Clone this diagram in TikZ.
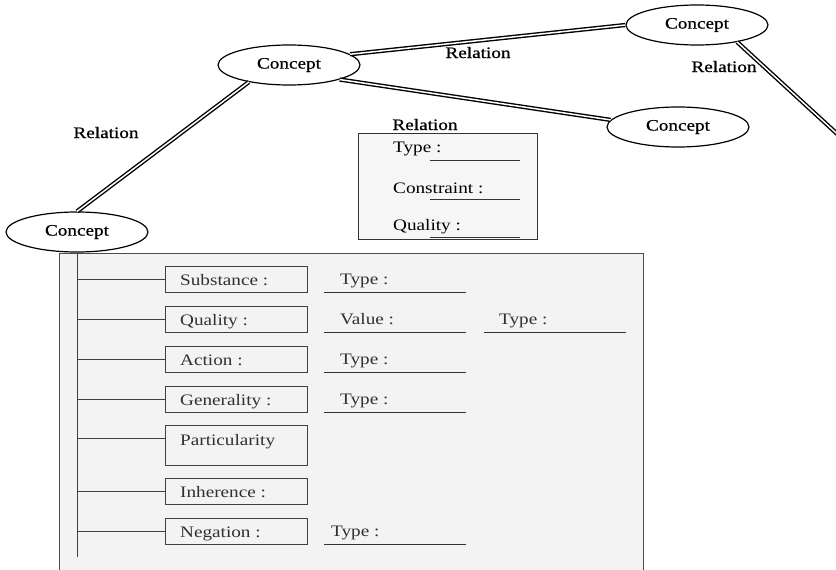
\documentclass[tikz,border=0pt]{standalone}
\usepackage{fontspec}
\setmainfont{Liberation Serif}[FakeStretch=1.2]
\newfontfamily\semib{Liberation Serif}[FakeStretch=1.2, FakeBold=0.7]
\usetikzlibrary{shapes.geometric}
\definecolor{panelfill}{HTML}{F3F3F3}
\definecolor{relfill}{HTML}{F6F6F6}
\definecolor{boxtext}{HTML}{303030}
\begin{document}
\begin{tikzpicture}[x=1pt,y=-1pt,
  font=\fontsize{16}{18}\selectfont,
  concept/.style={ellipse, draw, line width=1.2pt, minimum width=142pt, minimum height=40pt, inner sep=0pt, fill=white, font=\fontsize{16}{18}\semib},
  relline/.style={double, line width=1.4pt, double distance=1.5pt},
  lbl/.style={inner sep=0pt, font=\fontsize{16}{18}\semib},
  fbox/.style={draw=black!75, line width=0.9pt, minimum width=142pt, inner sep=0pt, anchor=north west},
  ftext/.style={inner sep=0pt, anchor=base west, text=boxtext},
  uline/.style={draw=black!80, line width=1pt},
  twig/.style={draw=black!75, line width=0.9pt}
]
\useasboundingbox (0,0) rectangle (836,570);
% panel
\node[draw=black!70, line width=0.9pt, fill=panelfill, minimum width=584pt, minimum height=330pt, inner sep=0pt, anchor=north west] (panel) at (59,253) {};
% relation box
\node[draw=black!80, line width=0.9pt, fill=relfill, minimum width=179pt, minimum height=106pt, inner sep=0pt, anchor=north west] (relbox) at (358,133) {};
\node[lbl, anchor=base] (relboxlbl) at (425,130) {Relation};
\node[ftext, text=black] (rt1) at (393,152) {Type :};
\node[ftext, text=black] (rt2) at (393,193) {Constraint :};
\node[ftext, text=black] (rt3) at (393,230) {Quality :};
\coordinate (ru1a) at (430,160); \coordinate (ru1b) at (520,160);
\coordinate (ru2a) at (430,199); \coordinate (ru2b) at (520,199);
\coordinate (ru3a) at (430,237); \coordinate (ru3b) at (520,237);
\draw[uline] (ru1a) -- (ru1b);
\draw[uline] (ru2a) -- (ru2b);
\draw[uline] (ru3a) -- (ru3b);
% concepts
\node[concept] (cm) at (289,65) {Concept};
\node[concept] (ctr) at (697,25) {Concept};
\node[concept] (cr) at (678,127) {Concept};
\node[concept] (cl) at (77,232) {Concept};
\coordinate (off) at (846,142);
\draw[relline] (cm.10) -- (ctr.180);
\draw[relline] (cm.-16) -- (cr.174);
\draw[relline] (cm.-157) -- (cl.90);
\draw[relline] (ctr.-23) -- (off);
\node[lbl, anchor=base] (l1) at (478,58) {Relation};
\node[lbl, anchor=base] (l2) at (724,72) {Relation};
\node[lbl, anchor=base] (l3) at (106,138) {Relation};
% spine
\coordinate (vtop) at (77,253);
\coordinate (vbot) at (77,557);
\draw[draw=black!75, line width=1pt] (vtop) -- (vbot);
% rows
\node[fbox, minimum height=26pt] (bsub) at (165,266) {};
\node[fbox, minimum height=26pt] (bqua) at (165,306) {};
\node[fbox, minimum height=26pt] (bact) at (165,346) {};
\node[fbox, minimum height=26pt] (bgen) at (165,386) {};
\node[fbox, minimum height=40pt] (bpar) at (165,425) {};
\node[fbox, minimum height=26pt] (binh) at (165,478) {};
\node[fbox, minimum height=26pt] (bneg) at (165,518) {};
\node[ftext] (tsub) at (180,285) {Substance :};
\node[ftext] (tqua) at (180,325) {Quality :};
\node[ftext] (tact) at (180,365) {Action :};
\node[ftext] (tgen) at (180,405) {Generality :};
\node[ftext] (tpar) at (180,445) {Particularity};
\node[ftext] (tinh) at (180,497) {Inherence :};
\node[ftext] (tneg) at (180,537) {Negation :};
\draw[twig] (bsub.west) -- (bsub.west -| vtop);
\draw[twig] (bqua.west) -- (bqua.west -| vtop);
\draw[twig] (bact.west) -- (bact.west -| vtop);
\draw[twig] (bgen.west) -- (bgen.west -| vtop);
\coordinate (ppar) at (165,438);
\draw[twig] (ppar) -- (ppar -| vtop);
\draw[twig] (binh.west) -- (binh.west -| vtop);
\draw[twig] (bneg.west) -- (bneg.west -| vtop);
% fields
\node[ftext] (fsub) at (340,284) {Type :};
\node[ftext] (fqv) at (340,324) {Value :};
\node[ftext] (fqt) at (499,324) {Type :};
\node[ftext] (fact) at (340,364) {Type :};
\node[ftext] (fgen) at (340,404) {Type :};
\node[ftext] (fneg) at (331,536) {Type :};
\coordinate (u1a) at (324,292); \coordinate (u1b) at (466,292);
\coordinate (u2a) at (324,332); \coordinate (u2b) at (466,332);
\coordinate (u3a) at (484,332); \coordinate (u3b) at (626,332);
\coordinate (u4a) at (324,372); \coordinate (u4b) at (466,372);
\coordinate (u5a) at (324,412); \coordinate (u5b) at (466,412);
\coordinate (u6a) at (324,544); \coordinate (u6b) at (466,544);
\draw[uline] (u1a) -- (u1b);
\draw[uline] (u2a) -- (u2b);
\draw[uline] (u3a) -- (u3b);
\draw[uline] (u4a) -- (u4b);
\draw[uline] (u5a) -- (u5b);
\draw[uline] (u6a) -- (u6b);
\end{tikzpicture}
\end{document}
